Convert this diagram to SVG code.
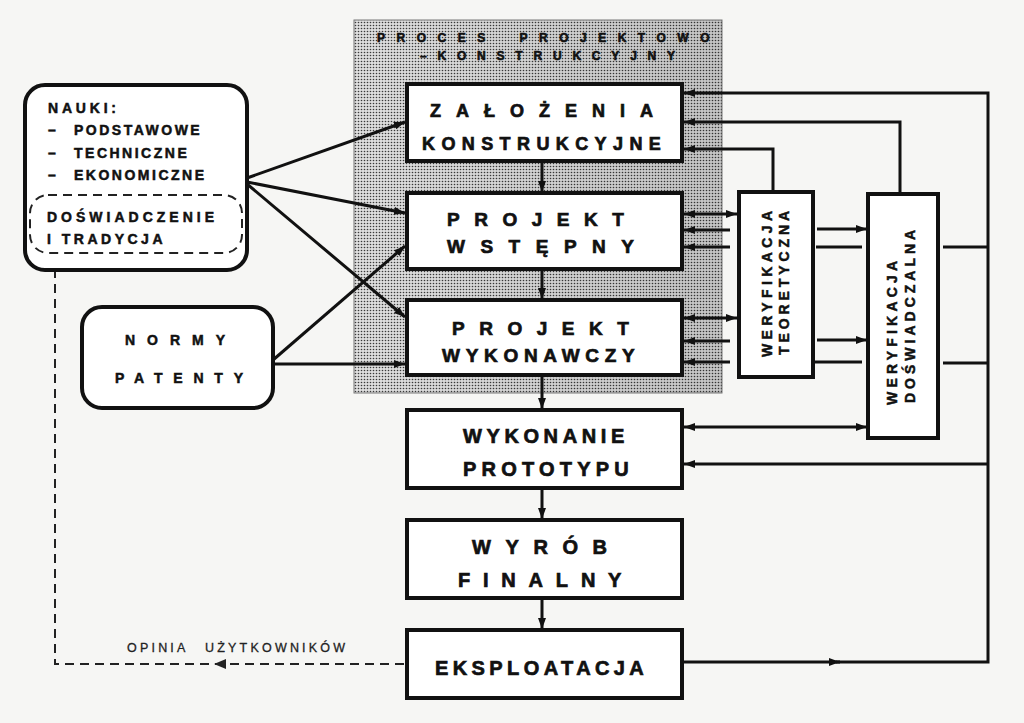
<svg xmlns="http://www.w3.org/2000/svg" width="1024" height="723" viewBox="0 0 1024 723">
<defs>
<pattern id="dots" width="3" height="3" patternUnits="userSpaceOnUse">
<rect width="3" height="3" fill="#dedede"/>
<circle cx="1.5" cy="1.5" r="0.8" fill="#3a3a3a"/>
</pattern>
<linearGradient id="shade" x1="0" y1="0" x2="1" y2="0">
<stop offset="0" stop-color="#000" stop-opacity="0"/>
<stop offset="1" stop-color="#000" stop-opacity="0.12"/>
</linearGradient>
<marker id="ar" viewBox="0 0 11 8" refX="11" refY="4" markerWidth="11" markerHeight="8" markerUnits="userSpaceOnUse" orient="auto-start-reverse">
<path d="M0,0 L11,4 L0,8 z" fill="#111"/>
</marker>
</defs>
<style>
.box{fill:#fff;stroke:#111;stroke-width:4}
.rbox{fill:#fff;stroke:#111;stroke-width:4}
.c{fill:none;stroke:#111;stroke-width:3}
.d{fill:none;stroke:#222;stroke-width:2;stroke-dasharray:9 6}
.t{font-family:"Liberation Sans",Arial,sans-serif;font-weight:bold;fill:#111;stroke:#111;stroke-width:0.7}
.big{font-size:19px}
.med{font-size:20px}
.sm{font-size:14px;stroke-width:0.5}
.ti{font-size:12px;stroke-width:0.6}
.op{font-family:"Liberation Sans",Arial,sans-serif;font-size:12.5px;fill:#222;letter-spacing:3.2px;stroke:#222;stroke-width:0.3}
</style>
<rect width="1024" height="723" fill="#f6f6f4"/>

<g id="proces">
<rect x="354" y="20" width="368" height="373" fill="url(#dots)" stroke="#777" stroke-width="1"/>
<rect x="354" y="20" width="368" height="373" fill="url(#shade)"/>
<text class="t ti" x="377" y="42" letter-spacing="11.5" word-spacing="8">PROCES PROJEKTOWO</text>
<text class="t ti" x="420" y="60" letter-spacing="10.8">–KONSTRUKCYJNY</text>
</g>

<g id="connectors">
<path class="c" d="M247 178 L405 122" marker-end="url(#ar)"/>
<path class="c" d="M247 182 L405 213" marker-end="url(#ar)"/>
<path class="c" d="M247 184 L405 317" marker-end="url(#ar)"/>
<path class="c" d="M273 360 L405 246" marker-end="url(#ar)"/>
<path class="c" d="M273 364 L405 364" marker-end="url(#ar)"/>
<path class="c" d="M542 162 V192" marker-end="url(#ar)"/>
<path class="c" d="M542 270 V299" marker-end="url(#ar)"/>
<path class="c" d="M542 377 V409" marker-end="url(#ar)"/>
<path class="c" d="M542 490 V519" marker-end="url(#ar)"/>
<path class="c" d="M542 600 V629" marker-end="url(#ar)"/>
<path class="c" d="M684 662 H840" marker-end="url(#ar)"/>
<path class="c" d="M836 662 H988 V93 H684" marker-end="url(#ar)"/>
<path class="c" d="M900 193 V122 H684" marker-end="url(#ar)"/>
<path class="c" d="M773 191 V149 H684" marker-end="url(#ar)"/>
<path class="c" d="M684 214 H737" marker-start="url(#ar)" marker-end="url(#ar)"/>
<path class="c" d="M730 230 H684" marker-end="url(#ar)"/>
<path class="c" d="M730 247 H684" marker-end="url(#ar)"/>
<path class="c" d="M817 229 H867" marker-end="url(#ar)"/>
<path class="c" d="M816 247 H862"/>
<path class="c" d="M943 247 H988"/>
<path class="c" d="M684 318 H737" marker-start="url(#ar)" marker-end="url(#ar)"/>
<path class="c" d="M730 341 H684" marker-end="url(#ar)"/>
<path class="c" d="M730 362 H684" marker-end="url(#ar)"/>
<path class="c" d="M817 340 H867" marker-end="url(#ar)"/>
<path class="c" d="M813 362 H862"/>
<path class="c" d="M943 363 H988"/>
<path class="c" d="M684 427 H867" marker-start="url(#ar)" marker-end="url(#ar)"/>
<path class="c" d="M988 464 H684" marker-end="url(#ar)"/>
<path class="d" d="M404 664 H55 V253"/>
<path d="M214 664 L226 659 L226 669 z" fill="#222"/>
<text class="op" x="127" y="652">OPINIA</text>
<text class="op" x="205" y="652">UŻYTKOWNIKÓW</text>
</g>

<g id="nauki">
<rect class="rbox" x="25" y="85" width="222" height="185" rx="20"/>
<rect class="d" x="30" y="195" width="212" height="58" rx="18"/>
<text class="t sm" x="48" y="113" letter-spacing="3.8">NAUKI:</text>
<text class="t sm" x="48" y="135">–</text>
<text class="t sm" x="74" y="135" letter-spacing="2.5">PODSTAWOWE</text>
<text class="t sm" x="48" y="158">–</text>
<text class="t sm" x="74" y="158" letter-spacing="2.5">TECHNICZNE</text>
<text class="t sm" x="48" y="180">–</text>
<text class="t sm" x="74" y="180" letter-spacing="2.5">EKONOMICZNE</text>
<text class="t sm" x="47" y="222" letter-spacing="4">DOŚWIADCZENIE</text>
<text class="t sm" x="47" y="244" letter-spacing="3.5">I TRADYCJA</text>
</g>

<g id="normy">
<rect class="rbox" x="82" y="307" width="191" height="101" rx="20"/>
<text class="t sm" x="125" y="345" letter-spacing="12">NORMY</text>
<text class="t sm" x="115" y="383" letter-spacing="10.8">PATENTY</text>
</g>

<g id="zalozenia">
<rect class="box" x="407" y="84" width="275" height="77"/>
<text class="t" font-size="18" x="430" y="117" letter-spacing="15">ZAŁOŻENIA</text>
<text class="t" font-size="18" x="422" y="150" letter-spacing="6.4">KONSTRUKCYJNE</text>
</g>

<g id="projekt-wstepny">
<rect class="box" x="407" y="193" width="275" height="76"/>
<text class="t big" x="447" y="226" letter-spacing="14.5">PROJEKT</text>
<text class="t big" x="447" y="253" letter-spacing="15.5">WSTĘPNY</text>
</g>

<g id="projekt-wykonawczy">
<rect class="box" x="407" y="300" width="275" height="75"/>
<text class="t big" x="452" y="335" letter-spacing="14.5">PROJEKT</text>
<text class="t big" x="442" y="362" letter-spacing="5.7">WYKONAWCZY</text>
</g>

<g id="wykonanie">
<rect class="box" x="407" y="410" width="275" height="78"/>
<text class="t med" x="463" y="443" letter-spacing="4.6">WYKONANIE</text>
<text class="t med" x="463" y="476" letter-spacing="5.2">PROTOTYPU</text>
</g>

<g id="wyrob">
<rect class="box" x="407" y="520" width="275" height="78"/>
<text class="t med" x="472" y="554" letter-spacing="14.6">WYRÓB</text>
<text class="t med" x="458" y="587" letter-spacing="12.8">FINALNY</text>
</g>

<g id="eksploatacja">
<rect class="box" x="407" y="630" width="275" height="68"/>
<text class="t med" x="435" y="675" letter-spacing="4.4">EKSPLOATACJA</text>
</g>

<g id="weryfikacja-teoretyczna">
<rect class="box" x="739" y="192" width="74" height="185"/>
<text class="t sm" transform="translate(772,357) rotate(-90)" letter-spacing="4.4">WERYFIKACJA</text>
<text class="t sm" transform="translate(789,355) rotate(-90)" letter-spacing="3.9">TEORETYCZNA</text>
</g>

<g id="weryfikacja-doswiadczalna">
<rect class="box" x="868" y="194" width="70" height="244"/>
<text class="t sm" transform="translate(897,405) rotate(-90)" letter-spacing="4.2">WERYFIKACJA</text>
<text class="t sm" transform="translate(915,403) rotate(-90)" letter-spacing="4">DOŚWIADCZALNA</text>
</g>
</svg>
